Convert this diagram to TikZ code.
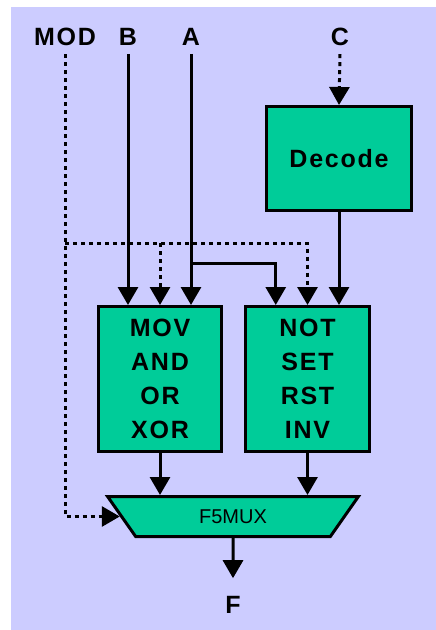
\documentclass[tikz,border=0pt]{standalone}
\usepackage{fontspec}
\setsansfont{Liberation Sans}
\newfontfamily\widesans[LetterSpace=7]{Liberation Sans}
\usetikzlibrary{arrows.meta,positioning,calc,shapes.geometric}
\definecolor{bglav}{HTML}{CCCCFF}
\definecolor{unitgreen}{HTML}{00CC99}
\tikzset{
  unit/.style={draw=black, fill=unitgreen, line width=3pt, align=center, inner sep=0pt, font=\widesans\bfseries\fontsize{25}{34}\selectfont},
  muxbox/.style={draw=black, fill=unitgreen, line width=3pt, trapezium, shape border rotate=180, trapezium stretches=true, trapezium angle=55, inner sep=0pt, font=\sffamily\fontsize{20}{24}\selectfont},
  pin/.style={font=\widesans\bfseries\fontsize{25}{28}\selectfont, inner sep=8pt},
  wire/.style={line width=3pt, -{Triangle[length=18pt,width=20pt]}},
  dotwire/.style={wire, dash pattern=on 4pt off 4pt}
}

\begin{document}
\begin{tikzpicture}[x=1pt,y=-1pt]
\useasboundingbox (0,0) rectangle (436,630);
\fill[bglav] (11,7) rectangle (436,630);
% pins
\node[pin] (mod) at (65,37) {MOD};
\node[pin] (inb) at (128,37) {B};
\node[pin] (ina) at (191,37) {A};
\node[pin] (inc) at (340,37) {C};
\node[pin] (outf) at (233,605) {F};
% units
\node[unit, minimum width=145pt, minimum height=104pt] (decode) at (339,158.5) {Decode};
\node[unit, minimum width=123pt, minimum height=145pt] (logic) at (160,379) {MOV\\AND\\OR\\XOR};
\node[unit, minimum width=124pt, minimum height=145pt] (ctrl) at (307.5,379) {NOT\\SET\\RST\\INV};
\node[muxbox, minimum width=252pt, minimum height=40pt] (mux) at (233,516.5) {F5MUX};
% data inputs
\draw[wire] (inb.south) -- (inb.south |- logic.north);
\draw[wire] (ina.south) -- (ina.south |- logic.north);
\coordinate (abend) at (ina.south |- 0,263);
\draw[wire] (abend) -| ($(ctrl.north west)!0.25!(ctrl.north east)$);
\draw[dotwire] (inc.south) -- (decode.north);
\draw[wire] (decode.south) -- (decode.south |- ctrl.north);
% mode lines
\coordinate (modbus) at (mod.south |- 0,243);
\draw[dotwire] (mod.south) |- (mux.west);
\draw[dotwire] (modbus) -| (ctrl.north);
\draw[dotwire] (modbus -| logic.north) -- (logic.north);
% outputs
\draw[wire] (logic.south) -- (logic.south |- mux.north);
\draw[wire] (ctrl.south) -- (ctrl.south |- mux.north);
\draw[wire, shorten >=10pt] (mux.south) -- (outf.north);
\end{tikzpicture}
\end{document}
